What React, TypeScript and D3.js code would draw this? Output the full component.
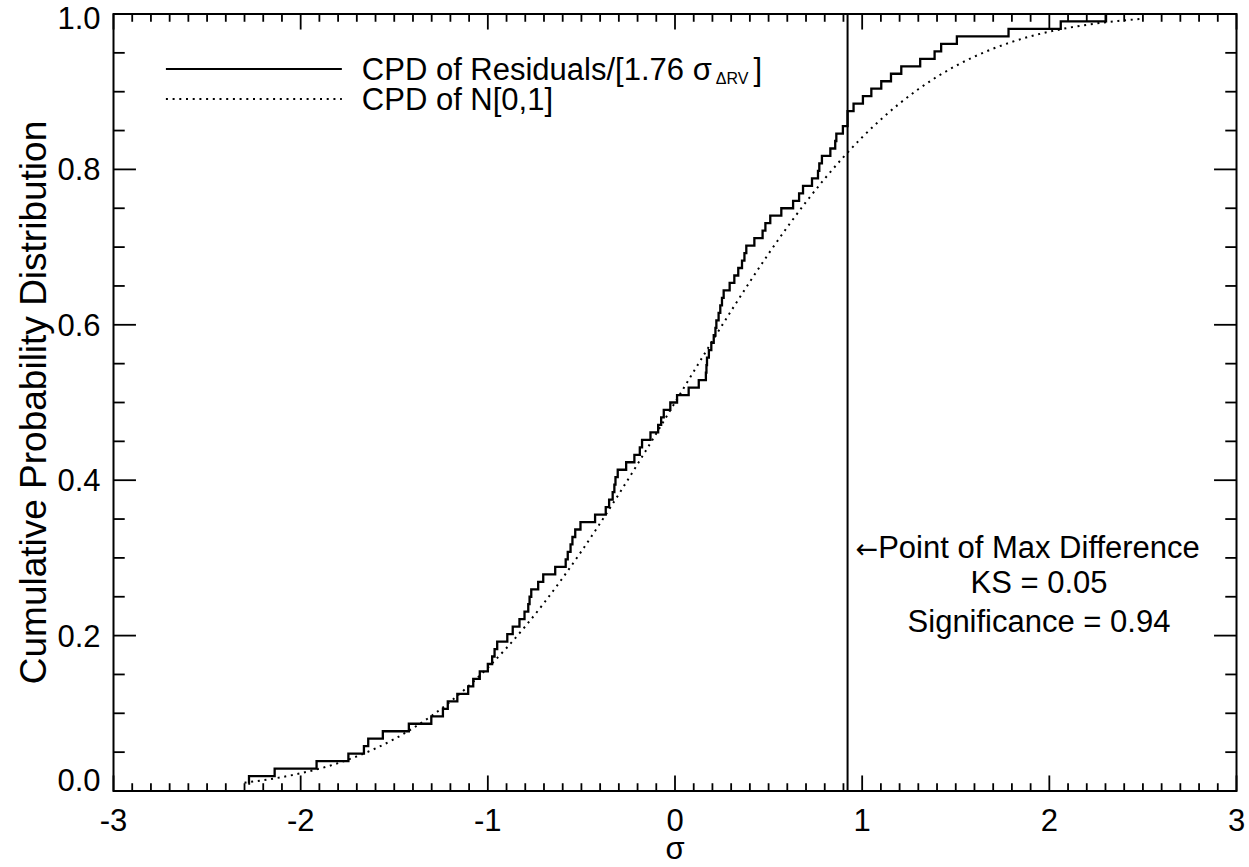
import React, { useRef, useEffect } from 'react';
import * as d3 from 'd3';

const residuals = [
    -2.28, -2.276, -2.139, -1.915, -1.745, -1.662, -1.639, -1.561, -1.422, -1.302,
    -1.240, -1.214, -1.163, -1.105, -1.078, -1.043, -1.000, -0.977, -0.964, -0.950,
    -0.896, -0.867, -0.831, -0.804, -0.784, -0.777, -0.768, -0.731, -0.704, -0.640,
    -0.584, -0.573, -0.558, -0.548, -0.533, -0.505, -0.427, -0.370, -0.352, -0.333,
    -0.324, -0.318, -0.306, -0.261, -0.217, -0.188, -0.176, -0.131, -0.090, -0.074,
    -0.060, -0.025, 0.011, 0.073, 0.127, 0.165, 0.168, 0.171, 0.181, 0.194,
    0.207, 0.216, 0.221, 0.233, 0.242, 0.251, 0.260, 0.292, 0.317, 0.338,
    0.358, 0.371, 0.381, 0.424, 0.468, 0.483, 0.509, 0.568, 0.631, 0.663,
    0.684, 0.732, 0.764, 0.771, 0.785, 0.830, 0.856, 0.862, 0.897, 0.922,
    0.922, 0.954, 1.004, 1.049, 1.102, 1.154, 1.209, 1.310, 1.387, 1.422,
    1.506, 1.782, 2.061, 2.303,
];

// CPD of N[0,1] (dotted curve)
const normX = [
    -2.3, -2.2, -2.1, -2.0, -1.9, -1.8, -1.7, -1.6, -1.5, -1.4, -1.3, -1.2, -1.1, -1.0,
    -0.9, -0.8, -0.7, -0.6, -0.5, -0.4, -0.3, -0.2, -0.1, 0.0, 0.1, 0.2, 0.3, 0.4, 0.5,
    0.6, 0.7, 0.8, 0.9, 1.0, 1.1, 1.2, 1.3, 1.4, 1.5, 1.6, 1.7, 1.8, 1.9, 2.0, 2.1, 2.2,
    2.3, 2.4, 2.5,
];
const normCpd = [
    0.0107, 0.0139, 0.0179, 0.0228, 0.0287, 0.0359, 0.0446, 0.0548, 0.0668, 0.0808, 0.0968,
    0.1151, 0.1357, 0.1587, 0.1841, 0.2119, 0.2420, 0.2743, 0.3085, 0.3446, 0.3821, 0.4207,
    0.4602, 0.5000, 0.5398, 0.5793, 0.6179, 0.6554, 0.6915, 0.7257, 0.7580, 0.7881, 0.8159,
    0.8413, 0.8643, 0.8849, 0.9032, 0.9192, 0.9332, 0.9452, 0.9554, 0.9641, 0.9713, 0.9772,
    0.9821, 0.9861, 0.9893, 0.9918, 0.9938,
];

const ksX = 0.922; // point of max difference
const ksText = ['Point of Max Difference', 'KS = 0.05', 'Significance = 0.94'];

const xTicks = [-3, -2, -1, 0, 1, 2, 3];
const xTickLabels = ['-3', '-2', '-1', '0', '1', '2', '3'];
const yTicks = [0, 0.2, 0.4, 0.6, 0.8, 1.0];
const yTickLabels = ['0.0', '0.2', '0.4', '0.6', '0.8', '1.0'];

const W = 1249;
const H = 867;
const FONT = "'Liberation Sans', Arial, Helvetica, sans-serif";

export default function App() {
    const svgRef = useRef<SVGSVGElement>(null);

    useEffect(() => {
        if (!svgRef.current) return;
        const svg = d3.select(svgRef.current);
        svg.selectAll('*').remove();

        const margin = { top: 14, right: 12.5, bottom: 76, left: 113.5 };
        const x0 = margin.left, x1 = W - margin.right;
        const y0 = H - margin.bottom, y1 = margin.top;

        const x = d3.scaleLinear().domain([-3, 3]).range([x0, x1]);
        const y = d3.scaleLinear().domain([0, 1]).range([y0, y1]);

        // empirical CPD as steps
        const N = residuals.length;
        const steps: [number, number][] = residuals.map((r, i) => [r, (i + 1) / N]);
        const line = d3.line<[number, number]>()
            .x(d => x(d[0]))
            .y(d => y(d[1]))
            .curve(d3.curveStepAfter);

        svg.append('path')
            .attr('d', line(steps))
            .attr('fill', 'none')
            .attr('stroke', '#000')
            .attr('stroke-width', 2.3);

        // normal CPD, dotted
        const norm: [number, number][] = normX.map((v, i) => [v, normCpd[i]]);
        svg.append('path')
            .attr('d', d3.line<[number, number]>().x(d => x(d[0])).y(d => y(d[1])).curve(d3.curveMonotoneX)(norm))
            .attr('fill', 'none')
            .attr('stroke', '#000')
            .attr('stroke-width', 2)
            .attr('stroke-dasharray', '2 4.7');

        // vertical line at max difference
        svg.append('line')
            .attr('x1', x(ksX)).attr('x2', x(ksX))
            .attr('y1', y(0)).attr('y2', y(1))
            .attr('stroke', '#000')
            .attr('stroke-width', 2);

        // frame
        svg.append('rect')
            .attr('x', x0).attr('y', y1)
            .attr('width', x1 - x0).attr('height', y0 - y1)
            .attr('fill', 'none')
            .attr('stroke', '#000')
            .attr('stroke-width', 2);

        // ticks, IDL style: inward on all four sides
        const tg = svg.append('g').attr('stroke', '#000').attr('stroke-width', 1.8);
        const xMajLen = 0.02 * (y0 - y1);
        const yMajLen = 0.02 * (x1 - x0);
        d3.range(-30, 31).forEach(i => {
            const v = i / 10;
            const len = i % 10 === 0 ? xMajLen : xMajLen / 2;
            tg.append('line').attr('x1', x(v)).attr('x2', x(v)).attr('y1', y0).attr('y2', y0 - len);
            tg.append('line').attr('x1', x(v)).attr('x2', x(v)).attr('y1', y1).attr('y2', y1 + len);
        });
        d3.range(0, 21).forEach(i => {
            const v = i / 20;
            const len = i % 4 === 0 ? yMajLen : yMajLen / 2;
            tg.append('line').attr('x1', x0).attr('x2', x0 + len).attr('y1', y(v)).attr('y2', y(v));
            tg.append('line').attr('x1', x1).attr('x2', x1 - len).attr('y1', y(v)).attr('y2', y(v));
        });

        const txt = svg.append('g').attr('font-family', FONT).attr('font-size', 31).attr('fill', '#000');

        xTicks.forEach((t, i) => {
            txt.append('text')
                .attr('x', x(t)).attr('y', y0 + 40)
                .attr('text-anchor', 'middle')
                .text(xTickLabels[i]);
        });
        yTicks.forEach((t, i) => {
            // centred on the tick, but kept inside the frame's height
            const base = Math.min(y0, Math.max(y1 + 15, y(t) + 11));
            txt.append('text')
                .attr('x', x0 - 13).attr('y', base)
                .attr('text-anchor', 'end')
                .text(yTickLabels[i]);
        });

        // axis titles
        txt.append('text')
            .attr('x', x(0)).attr('y', H - 8)
            .attr('text-anchor', 'middle')
            .text('σ');
        txt.append('text')
            .attr('transform', `translate(46,${(y0 + y1) / 2}) rotate(-90)`)
            .attr('text-anchor', 'middle')
            .attr('font-size', 37)
            .text('Cumulative Probability Distribution');

        // legend
        const lx0 = x(-2.72), lx1 = x(-1.78);
        svg.append('line')
            .attr('x1', lx0).attr('x2', lx1).attr('y1', 69).attr('y2', 69)
            .attr('stroke', '#000').attr('stroke-width', 2);
        svg.append('line')
            .attr('x1', lx0).attr('x2', lx1).attr('y1', 99).attr('y2', 99)
            .attr('stroke', '#000').attr('stroke-width', 2).attr('stroke-dasharray', '2 4.7');

        const l1 = txt.append('text').attr('x', lx1 + 20).attr('y', 80);
        l1.append('tspan').text('CPD of Residuals/[1.76 σ');
        l1.append('tspan').attr('font-size', 16).attr('dx', 4).attr('dy', 4).text('ΔRV');
        l1.append('tspan').attr('dx', 5).attr('dy', -4).text(']');
        txt.append('text').attr('x', lx1 + 20).attr('y', 110).text('CPD of N[0,1]');

        // KS annotation
        const ax = x(ksX) + 8;
        const a1 = txt.append('text').attr('x', ax).attr('y', 558);
        a1.append('tspan').attr('font-family', "'DejaVu Sans', sans-serif").attr('font-size', 27).text('←');
        a1.append('tspan').text(ksText[0]);
        const cx = 1039;
        txt.append('text').attr('x', cx).attr('y', 593).attr('text-anchor', 'middle').text(ksText[1]);
        txt.append('text').attr('x', cx).attr('y', 632).attr('text-anchor', 'middle').text(ksText[2]);
    }, []);

    return (
        <svg
            ref={svgRef}
            width={W}
            height={H}
            viewBox={`0 0 ${W} ${H}`}
            style={{ position: 'absolute', left: 0, top: 0, background: '#fff' }}
        />
    );
}
